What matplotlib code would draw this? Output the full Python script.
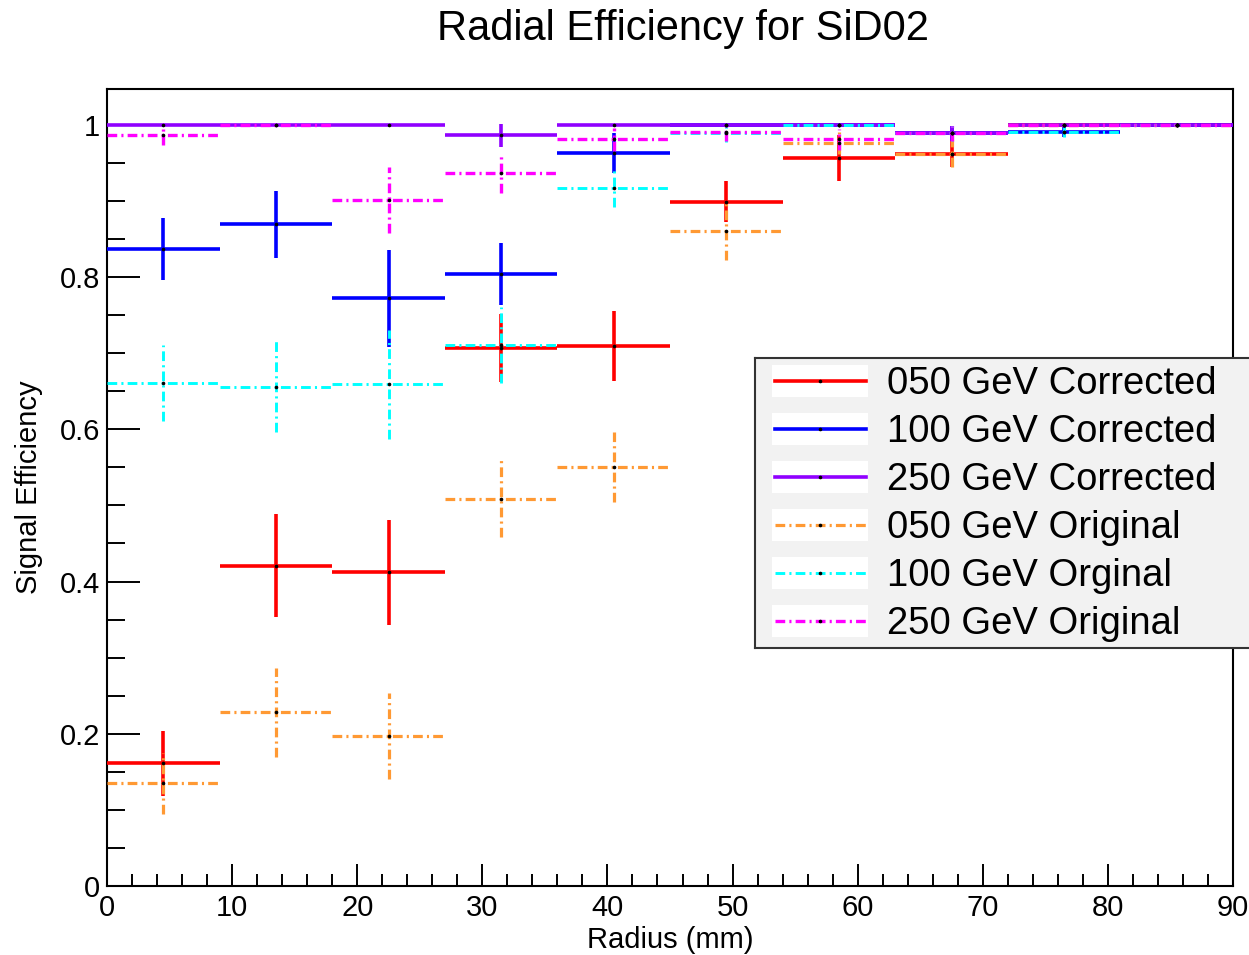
import numpy as np
import matplotlib
matplotlib.use("Agg")
import matplotlib.pyplot as plt
from matplotlib.ticker import MultipleLocator, FuncFormatter

# ── Data ──────────────────────────────────────────────────────────────────────

bin_edges = [0, 9, 18, 27, 36, 45, 54, 63, 72, 81, 90]

eff_050_corr = [0.161, 0.421, 0.412, 0.707, 0.709, 0.899, 0.956, 0.962, 1.0, 1.0]
err_050_corr = [0.043, 0.068, 0.069, 0.045, 0.046, 0.027, 0.030, 0.018, 0.0, 0.0]

eff_100_corr = [0.837, 0.869, 0.772, 0.804, 0.963, 1.0, 1.0, 0.989, 0.991, 1.0]
err_100_corr = [0.041, 0.044, 0.064, 0.041, 0.026, 0.0, 0.0, 0.010, 0.007, 0.0]

eff_250_corr = [1.0, 1.0, 1.0, 0.986, 1.0, 1.0, 1.0, 0.989, 1.0, 1.0]
err_250_corr = [0.0, 0.0, 0.0, 0.015, 0.0, 0.0, 0.0, 0.010, 0.0, 0.0]

eff_050_orig = [0.135, 0.228, 0.197, 0.509, 0.550, 0.860, 0.976, 0.962, 1.0, 1.0]
err_050_orig = [0.040, 0.058, 0.057, 0.050, 0.046, 0.037, 0.015, 0.018, 0.0, 0.0]

eff_100_orig = [0.661, 0.656, 0.659, 0.711, 0.917, 0.989, 1.0, 0.989, 0.991, 1.0]
err_100_orig = [0.050, 0.060, 0.072, 0.050, 0.025, 0.012, 0.0, 0.010, 0.007, 0.0]

eff_250_orig = [0.986, 1.0, 0.901, 0.937, 0.981, 0.991, 0.981, 0.989, 1.0, 1.0]
err_250_orig = [0.012, 0.0, 0.043, 0.026, 0.015, 0.012, 0.014, 0.010, 0.0, 0.0]

labels = ["050 GeV Corrected", "100 GeV Corrected", "250 GeV Corrected",
          "050 GeV Original", "100 GeV Orginal", "250 GeV Original"]

# ── Style ─────────────────────────────────────────────────────────────────────

plt.rcParams["font.family"] = ["Liberation Sans", "DejaVu Sans"]
plt.rcParams["lines.scale_dashes"] = False

DASHDOT = (0, (7, 3, 1.5, 3))

SERIES = [
    # values,       errors,        color,     width, style
    (eff_050_corr, err_050_corr, "#ff0000", 2.6, "-"),
    (eff_100_corr, err_100_corr, "#0000ff", 2.6, "-"),
    (eff_250_corr, err_250_corr, "#9000ff", 2.6, "-"),
    (eff_050_orig, err_050_orig, "#ff9933", 2.3, DASHDOT),
    (eff_100_orig, err_100_orig, "#00ffff", 2.1, DASHDOT),
    (eff_250_orig, err_250_orig, "#ff00ff", 2.4, DASHDOT),
]

edges = np.array(bin_edges, dtype=float)
centers = 0.5 * (edges[:-1] + edges[1:])
half_w = 0.5 * np.diff(edges)

# ── Plot ──────────────────────────────────────────────────────────────────────

W, H = 1249, 955
fig = plt.figure(figsize=(W / 100, H / 100), dpi=100)
ax = fig.add_axes([107 / W, 1 - 886 / H, (1233 - 107) / W, (886 - 89) / H])

for vals, errs, color, lw, ls in SERIES:
    eb = ax.errorbar(centers, vals, xerr=half_w, yerr=errs, fmt="o", ms=1.6,
                     mfc="black", mec="black", ecolor=color, elinewidth=lw,
                     capsize=0, ls="none", zorder=3)
    for lc in eb[2]:
        lc.set_linestyle(ls)

ax.set_xlim(edges[0], edges[-1])
ax.set_ylim(0, 1.047)

ax.xaxis.set_major_locator(MultipleLocator(10))
ax.xaxis.set_minor_locator(MultipleLocator(2))
ax.yaxis.set_major_locator(MultipleLocator(0.2))
ax.yaxis.set_minor_locator(MultipleLocator(0.05))
ax.yaxis.set_major_formatter(FuncFormatter(lambda v, p: f"{v:g}"))

ax.tick_params(axis="x", which="major", direction="in", length=16, width=1.4,
               labelsize=21, pad=6)
ax.tick_params(axis="x", which="minor", direction="in", length=8.5, width=1.4)
ax.tick_params(axis="y", which="major", direction="in", length=24, width=1.4,
               labelsize=21, pad=5)
ax.tick_params(axis="y", which="minor", direction="in", length=13, width=1.4)
for sp in ax.spines.values():
    sp.set_linewidth(1.5)

ax.set_xlabel("Radius (mm)", fontsize=21)
ax.xaxis.set_label_coords(0.5, -0.05, transform=ax.transAxes)
ax.xaxis.label.set_va("top")
ax.set_ylabel("Signal Efficiency", fontsize=21, labelpad=12)
fig.text(683 / W, 1 - 29 / H, "Radial Efficiency for SiD02",
         ha="center", va="center", fontsize=30)

# ── Legend (ROOT style box, pixel coordinates) ────────────────────────────────

lax = fig.add_axes([755 / W, 1 - 648 / H, (1255 - 755) / W, (648 - 358) / H])
lax.set_xlim(755, 1255)
lax.set_ylim(648, 358)
lax.set_facecolor("#f2f2f2")
lax.set_xticks([])
lax.set_yticks([])
for sp in lax.spines.values():
    sp.set_linewidth(1.5)
    sp.set_color("#333333")

for i, ((vals, errs, color, lw, ls), lab) in enumerate(zip(SERIES, labels)):
    yc = 381 + 48 * i
    lax.add_patch(plt.Rectangle((772, yc - 16), 96, 32, color="white", lw=0))
    lax.plot([775, 866], [yc, yc], color=color, lw=lw, ls=ls)
    lax.plot([820], [yc], "o", ms=1.6, color="black")
    lax.text(887, yc + 3, lab, fontsize=27.5, va="center", ha="left")

fig.savefig("out.png", dpi=100)
